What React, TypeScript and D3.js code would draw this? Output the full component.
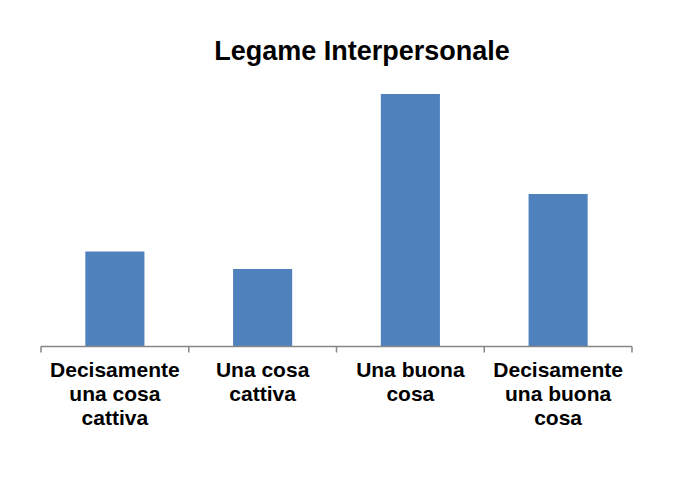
import React from "react";
import * as d3 from "d3";

const categories: string[][] = [
  ["Decisamente", "una cosa", "cattiva"],
  ["Una cosa", "cattiva"],
  ["Una buona", "cosa"],
  ["Decisamente", "una buona", "cosa"],
];
const values: number[] = [19, 15.5, 50.5, 30.5];
const title = "Legame Interpersonale";

export default function App() {
  const W = 675, H = 485;
  const left = 41, right = 632, base = 346.5, top = 46.5;
  const x = d3.scaleBand<number>().domain(d3.range(categories.length)).range([left, right]).paddingInner(0.6).paddingOuter(0.3);
  const xb = d3.scaleBand<number>().domain(d3.range(categories.length)).range([left, right]);
  const y = d3.scaleLinear().domain([0, 60]).range([base, top]);
  const font = "Arial, 'Liberation Sans', sans-serif";
  const ticks = d3.range(categories.length + 1).map((i) => left + i * xb.step());
  return (
    <svg width={W} height={H} style={{ position: "absolute", left: 0, top: 0, background: "#fff" }}>
      <text x={362} y={60} textAnchor="middle" fontFamily={font} fontWeight="bold" fontSize={27} fill="#000">{title}</text>
      {values.map((v, i) => (
        <rect key={i} x={x(i)} y={y(v)} width={x.bandwidth()} height={base - y(v)} fill="#4F81BD" />
      ))}
      <line x1={left} x2={right} y1={base} y2={base} stroke="#868686" strokeWidth={1.5} />
      {ticks.map((t, i) => (
        <line key={i} x1={t} x2={t} y1={base} y2={base + 6} stroke="#868686" strokeWidth={1.5} />
      ))}
      {categories.map((lines, i) => (
        <text key={i} textAnchor="middle" fontFamily={font} fontWeight="bold" fontSize={21} fill="#000">
          {lines.map((l, j) => (
            <tspan key={j} x={(xb(i) as number) + xb.bandwidth() / 2} y={377 + j * 24}>{l}</tspan>
          ))}
        </text>
      ))}
    </svg>
  );
}
